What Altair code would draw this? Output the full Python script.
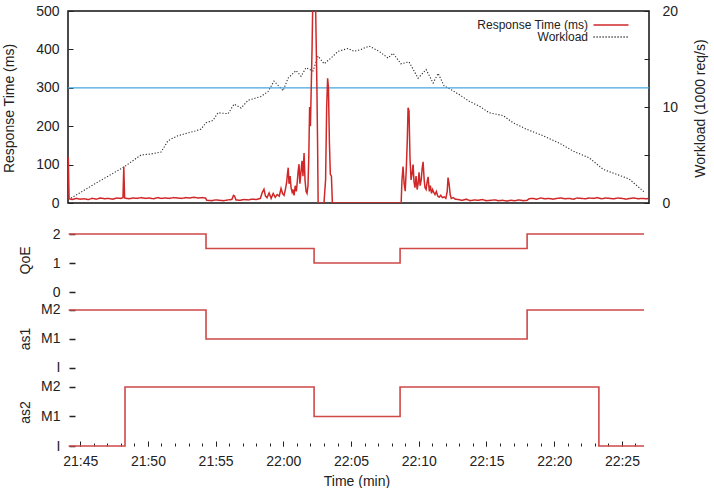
import json
import altair as alt
import pandas as pd

FONT = "Liberation Sans"
INK = "#222222"
RED = "#d02828"
STEP_RED = "#d04848"
BLUE = "#44a6e0"

# ---------------- data (time = minutes after 21:00) ----------------
legend_names = ["Response Time (ms)", "Workload"]

rt_time_a = [44.12, 44.18, 44.4, 44.7, 45.0, 45.3, 45.6, 45.9, 46.2, 46.5, 46.8, 47.1, 47.4,
             47.7, 48.0, 48.16, 48.22, 48.28, 48.6, 48.9, 49.2, 49.5, 49.8, 50.1, 50.4, 50.7,
             51.0, 51.3, 51.6, 51.9, 52.2, 52.5, 52.8, 53.1, 53.4, 53.7, 54.0, 54.25]
rt_ms_a = [120, 11, 9, 12, 10, 11, 9, 12, 10, 13, 11, 12, 10,
           13, 12, 14, 95, 13, 11, 13, 12, 14, 12, 13, 11, 14,
           12, 13, 12, 14, 13, 12, 14, 13, 15, 13, 14, 13]

rt_time_b = [54.35, 54.7, 55.0, 55.3, 55.6, 55.9, 56.2, 56.32, 56.4, 56.5, 56.8, 57.1, 57.4,
             57.7, 58.0, 58.3, 58.45, 58.57, 58.68, 58.8, 58.95, 59.1, 59.25, 59.4, 59.55,
             59.7, 59.83, 59.95, 60.05, 60.15, 60.25, 60.3, 60.36, 60.42, 60.5, 60.57, 60.65,
             60.72, 60.79, 60.88, 60.96, 61.04, 61.1, 61.16, 61.22, 61.3, 61.38, 61.45, 61.53,
             61.6, 61.68, 61.75, 61.82, 61.88, 61.94, 62.0, 62.06, 62.12, 62.18, 62.24, 62.3,
             62.36, 62.42, 62.48, 62.53, 62.57]
rt_ms_b = [7, 6, 8, 7, 6, 8, 9, 20, 18, 8, 7, 9, 8,
           10, 9, 12, 28, 36, 18, 14, 26, 12, 25, 15, 22,
           18, 38, 24, 20, 35, 55, 75, 92, 50, 70, 40, 28,
           35, 20, 45, 30, 60, 85, 101, 50, 80, 110, 70, 130,
           60, 30, 25, 45, 120, 250, 200, 300, 400, 540, 560, 520,
           560, 430, 300, 150, 0]

rt_time_c = [62.65, 62.8, 63.0, 63.12, 63.2, 63.27, 63.33, 63.4, 63.47, 63.55, 63.62,
             64.5, 65.5, 66.5, 67.5, 68.6]
rt_ms_c = [0, 0, 0, 60, 250, 325, 300, 160, 75, 70, 0,
           0, 0, 0, 0, 0]

rt_time_d = [68.7, 68.76, 68.84, 68.92, 69.0, 69.08, 69.15, 69.21, 69.28, 69.35, 69.43, 69.5,
             69.58, 69.65, 69.72, 69.8, 69.88, 69.95, 70.02, 70.1, 70.18, 70.25, 70.32, 70.4,
             70.46, 70.54, 70.62, 70.69, 70.78, 70.86, 70.94, 71.02, 71.1, 71.2, 71.3, 71.4,
             71.5, 71.62, 71.75, 71.88, 72.0, 72.1, 72.16, 72.24, 72.32, 72.4, 72.55, 72.7]
rt_ms_d = [0, 60, 95, 50, 31, 90, 160, 248, 240, 120, 60, 75,
           100, 55, 40, 70, 35, 50, 80, 45, 60, 90, 107, 60,
           40, 35, 55, 68, 30, 45, 25, 35, 28, 22, 30, 18,
           15, 20, 14, 16, 12, 30, 66, 50, 22, 12, 14, 10]

rt_time_e = [72.9, 73.2, 73.5, 73.8, 74.1, 74.4, 74.7, 75.0, 75.3, 75.6, 75.9, 76.2, 76.5,
             76.8, 77.1, 77.4, 77.7, 78.0, 78.15, 78.4, 78.7, 79.0, 79.3, 79.6, 79.9, 80.2,
             80.5, 80.8, 81.1, 81.4, 81.7, 82.0, 82.3, 82.6, 82.9, 83.2, 83.5, 83.8, 84.1,
             84.4, 84.7, 85.0, 85.3, 85.6, 85.9, 86.2, 86.5, 86.8, 86.95]
rt_ms_e = [9, 7, 10, 6, 8, 7, 9, 6, 7, 8, 6, 7, 5,
           7, 6, 8, 6, 7, 11, 12, 10, 13, 11, 12, 10, 12,
           13, 11, 12, 10, 13, 12, 11, 13, 12, 14, 11, 13, 12,
           11, 13, 12, 10, 12, 13, 11, 12, 11, 12]

wl_time = [44.32, 46.2, 48.23, 49.49, 50.2, 50.97, 51.49, 52.2, 52.96, 53.5, 53.92, 54.29,
           54.8, 55.18, 55.92, 56.36, 56.88, 57.40, 58.35, 58.87, 59.31, 59.98, 60.35, 60.94,
           61.31, 61.68, 62.19, 62.56, 63.01, 63.52, 64.04, 64.78, 65.22, 65.74, 66.33, 67.07,
           67.73, 68.10, 68.69, 69.28, 69.95, 70.54, 71.06, 71.43, 71.87, 72.39, 72.98, 73.72,
           74.46, 75.20, 76.23, 76.97, 77.93, 79.19, 80.37, 81.41, 82.59, 83.62, 84.58, 85.54,
           86.72]
wl_kreq = [0.5, 2.1, 3.75, 5.0, 5.1, 5.3, 6.5, 7.0, 7.3, 7.5, 7.7, 8.35,
           8.6, 9.4, 9.3, 10.3, 9.9, 10.7, 11.1, 11.6, 12.7, 11.7, 13.0, 13.8,
           13.2, 14.1, 13.75, 15.3, 14.5, 15.1, 15.8, 16.1, 15.8, 16.0, 16.35, 15.8,
           15.1, 15.6, 14.5, 14.7, 13.0, 13.9, 12.5, 13.5, 12.2, 11.8, 11.3, 10.6,
           10.1, 9.4, 9.1, 8.35, 7.7, 7.0, 6.25, 5.4, 4.7, 3.5, 3.0, 2.5,
           1.05]

threshold_ms = [300]

qoe_time = [44.15, 54.29, 62.27, 68.62, 78.0, 86.63]
qoe_level = [2, 1.5, 1, 1.5, 2, 2]
as1_time = [44.15, 54.29, 78.0, 86.63]
as1_level = [2, 1, 2, 2]
as2_time = [44.15, 48.31, 62.27, 68.62, 83.3, 86.63]
as2_level = [0, 2, 1, 2, 0, 0]

time_ticks = [45, 50, 55, 60, 65, 70, 75, 80, 85]
minor_ticks = list(range(45, 87))
rt_ticks = [0, 100, 200, 300, 400, 500]
wl_ticks = [0, 5, 10, 15, 20]
level_ticks = [0, 1, 2]
as_labels = ["I", "M1", "M2"]

rt_time = rt_time_a + rt_time_b + rt_time_c + rt_time_d + rt_time_e
rt_ms = rt_ms_a + rt_ms_b + rt_ms_c + rt_ms_d + rt_ms_e
assert len(rt_time) == len(rt_ms)
assert len(wl_time) == len(wl_kreq)

rt_df = pd.DataFrame({"t": rt_time, "v": rt_ms, "series": legend_names[0]})
wl_df = pd.DataFrame({"t": wl_time, "v": wl_kreq, "series": legend_names[1]})
thr_df = pd.DataFrame({"v": threshold_ms})
qoe_df = pd.DataFrame({"t": qoe_time, "level": qoe_level})
as1_df = pd.DataFrame({"t": as1_time, "level": as1_level})
as2_df = pd.DataFrame({"t": as2_time, "level": as2_level})

# ---------------- scales / axes ----------------
W = 581
x_scale = alt.Scale(domain=[44.1, 87.0], nice=False, zero=False)

common_axis = dict(domain=False, grid=False, labelFont=FONT, labelFontSize=14,
                   labelColor=INK, tickColor=INK, titleFont=FONT, titleFontSize=14,
                   titleFontWeight="normal", titleColor=INK, labelOverlap=False)

rt_axis = alt.Axis(values=rt_ticks, orient="left", offset=-5, tickSize=5, tickWidth=1,
                   labelPadding=9, title="Response Time (ms)", titleAngle=270,
                   titleX=-59.2, titleY=97, titleAlign="center",
                   titleBaseline="alphabetic", **common_axis)
wl_axis = alt.Axis(values=wl_ticks, orient="right", offset=-5, tickSize=5, tickWidth=1,
                   labelPadding=13, labelExpr="datum.value % 10 == 0 ? datum.label : ''",
                   title="Workload (1000 req/s)", titleAngle=270, titleX=60, titleY=97,
                   titleAlign="center", titleBaseline="alphabetic", **common_axis)

color_scale = alt.Scale(domain=legend_names, range=[RED, "#2b2b2b"])
dash_scale = alt.Scale(domain=legend_names, range=[[1, 0], [1.2, 1.8]])
legend = alt.Legend(title=None, orient="none", legendX=399, legendY=8,
                    symbolType="M-3.5,0L3.5,0", symbolSize=100, symbolStrokeWidth=1.4,
                    labelAlign="right", labelOffset={"expr": "-29"}, symbolOffset=138,
                    labelFont=FONT, labelFontSize=12, labelColor=INK,
                    rowPadding=0, padding=0)

rt_y_scale = alt.Scale(domain=[0, 500], nice=False)

thr = alt.Chart(thr_df).mark_rule(color=BLUE, strokeWidth=1.2).encode(
    y=alt.Y("v:Q", scale=rt_y_scale, axis=rt_axis)
)
rt_line = alt.Chart(rt_df).mark_line(strokeWidth=1.5, clip=True).encode(
    x=alt.X("t:Q", scale=x_scale, axis=None),
    y=alt.Y("v:Q", scale=rt_y_scale, axis=rt_axis),
    color=alt.Color("series:N", scale=color_scale, legend=legend),
    strokeDash=alt.StrokeDash("series:N", scale=dash_scale, legend=legend),
)
wl_line = alt.Chart(wl_df).mark_line(strokeWidth=1.1).encode(
    x=alt.X("t:Q", scale=x_scale, axis=None),
    y=alt.Y("v:Q", scale=alt.Scale(domain=[0, 20], nice=False), axis=wl_axis),
    color=alt.Color("series:N", scale=color_scale, legend=legend),
    strokeDash=alt.StrokeDash("series:N", scale=dash_scale, legend=legend),
)

top = alt.layer(wl_line, alt.layer(thr, rt_line)).resolve_scale(y="independent").properties(
    width=W, height=192, view=alt.ViewBackground(stroke="#111111", strokeWidth=1.5)
)


def level_axis(title, title_y, expr=None):
    extra = {}
    if expr is not None:
        extra["labelExpr"] = expr
    return alt.Axis(values=level_ticks, orient="left", offset=-7, tickSize=6, tickWidth=1.5,
                    labelPadding=9, title=title, titleAngle=270, titleX=-45.5,
                    titleY=title_y, titleAlign="center", titleBaseline="alphabetic",
                    **extra, **common_axis)


as_expr = json.dumps(as_labels) + "[datum.value]"

qoe_chart = alt.Chart(qoe_df).mark_line(interpolate="step-after", color=STEP_RED,
                                        strokeWidth=1.6).encode(
    x=alt.X("t:Q", scale=x_scale, axis=None),
    y=alt.Y("level:Q", scale=alt.Scale(domain=[-0.310, 3.069], nice=False, zero=False),
            axis=level_axis("QoE", 57)),
).properties(width=W, height=98)

as1_chart = alt.Chart(as1_df).mark_line(interpolate="step-after", color=STEP_RED,
                                        strokeWidth=1.6).encode(
    x=alt.X("t:Q", scale=x_scale, axis=None),
    y=alt.Y("level:Q", scale=alt.Scale(domain=[-0.345, 2.310], nice=False, zero=False),
            axis=level_axis("as1", 37.5, as_expr)),
).properties(width=W, height=77)

time_expr = ("datum.value < 60 ? '21:' + datum.value : "
             "'22:' + (datum.value < 70 ? '0' : '') + (datum.value - 60)")
time_axis = alt.Axis(values=time_ticks, labelExpr=time_expr, orient="bottom", offset=-5,
                     tickSize=5, tickWidth=1, labelPadding=8, labelFlush=False,
                     title="Time (min)", titleX=288.5, titleY=44, titleAlign="center",
                     titleBaseline="alphabetic", **common_axis)
minor_axis = alt.Axis(values=minor_ticks, orient="bottom", offset=-3, tickSize=3,
                      tickWidth=1, labels=False, title=None, domain=False, grid=False,
                      tickColor=INK)

as2_scale = alt.Scale(domain=[0, 2.305], nice=False, zero=False)
as2_y_axis = level_axis("as2", 34, as_expr)
as2_line = alt.Chart(as2_df).mark_line(interpolate="step-after", color=STEP_RED,
                                       strokeWidth=1.6).encode(
    x=alt.X("t:Q", scale=x_scale, axis=time_axis),
    y=alt.Y("level:Q", scale=as2_scale, axis=as2_y_axis),
)
as2_minor = alt.Chart(as2_df).mark_line(strokeOpacity=0).encode(
    x=alt.X("t:Q", scale=x_scale, axis=minor_axis),
    y=alt.Y("level:Q", scale=as2_scale, axis=as2_y_axis),
)
as2_chart = alt.layer(as2_line, as2_minor).resolve_axis(x="independent").properties(
    width=W, height=68
)

chart = alt.vconcat(top, qoe_chart, as1_chart, as2_chart, spacing=0, bounds="flush").configure(
    font=FONT, padding={"left": 2, "top": 3, "right": 2, "bottom": 2}
).configure_view(stroke="transparent")

chart.save("out.html", embed_options={"renderer": "svg", "actions": False})
